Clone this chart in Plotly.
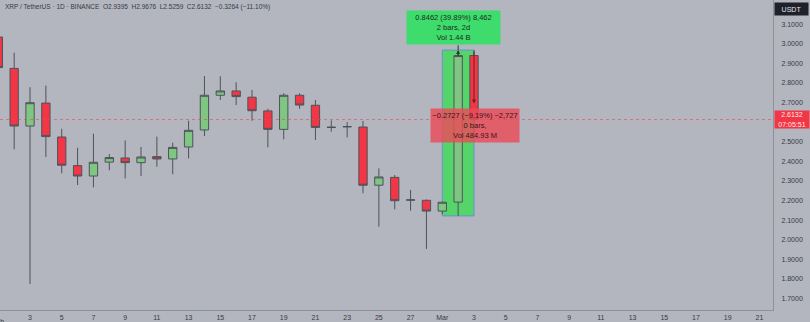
import plotly.graph_objects as go

# ---------------- data ----------------
dates = ["2025-02-%02d" % d for d in range(1, 29)] + ["2025-03-01", "2025-03-02", "2025-03-03"]
open_ = [3.034, 2.874, 2.580, 2.697, 2.524, 2.378, 2.325, 2.396, 2.417, 2.393, 2.424, 2.412,
         2.473, 2.560, 2.737, 2.759, 2.727, 2.657, 2.563, 2.737, 2.686, 2.574, 2.576, 2.575,
         2.278, 2.318, 2.202, 2.201, 2.146, 2.192, 2.9395]
high = [3.060, 2.954, 2.778, 2.786, 2.566, 2.469, 2.541, 2.437, 2.507, 2.473, 2.526, 2.495,
        2.607, 2.835, 2.834, 2.803, 2.764, 2.668, 2.747, 2.747, 2.713, 2.609, 2.600, 2.606,
        2.364, 2.330, 2.254, 2.205, 2.195, 2.955, 2.9676]
low = [2.850, 2.461, 1.774, 2.422, 2.339, 2.279, 2.267, 2.354, 2.313, 2.325, 2.372, 2.334,
       2.415, 2.529, 2.713, 2.687, 2.607, 2.471, 2.512, 2.668, 2.509, 2.551, 2.522, 2.237,
       2.066, 2.155, 2.148, 1.953, 2.130, 2.1213, 2.5259]
close = [2.878, 2.580, 2.699, 2.526, 2.380, 2.325, 2.395, 2.419, 2.393, 2.422, 2.412, 2.471,
         2.558, 2.737, 2.759, 2.730, 2.658, 2.563, 2.737, 2.687, 2.573, 2.573, 2.577, 2.278,
         2.320, 2.199, 2.203, 2.146, 2.191, 2.9395, 2.6132]

price_ticks = [1.7, 1.8, 1.9, 2.0, 2.1, 2.2, 2.3, 2.4, 2.5, 2.7, 2.8, 2.9, 3.0, 3.1]
date_ticks = ["2025-02-%02d" % d for d in range(3, 28, 2)] + ["2025-03-01"] + \
             ["2025-03-%02d" % d for d in range(3, 22, 2)]
date_tick_text = [str(d) for d in range(3, 28, 2)] + ["Mar"] + [str(d) for d in range(3, 22, 2)]

title_text = "XRP / TetherUS · 1D · BINANCE  O2.9395  H2.9676  L2.5259  C2.6132  −0.3264 (−11.10%)"
last_price = 2.6132
last_time = "07:05:51"
meas_up = dict(start="2025-03-01", end="2025-03-03", mid="2025-03-02", p0=2.1213, p1=2.9675,
               text="0.8462 (39.89%) 8,462<br>2 bars, 2d<br>Vol 1.44 B")
meas_dn = dict(at="2025-03-03", p0=2.9675, p1=2.6948,
               text="−0.2727 (−9.19%) −2,727<br>0 bars,<br>Vol 484.93 M")

# ---------------- figure ----------------
BG = "#b3b6bf"
TXT = "#363a45"
FONT = "Liberation Sans"

fig = go.Figure()
fig.add_trace(go.Candlestick(
    x=dates, open=open_, high=high, low=low, close=close,
    increasing=dict(line=dict(color="#4d5359", width=1), fillcolor="#80c683"),
    decreasing=dict(line=dict(color="#4d5359", width=1), fillcolor="#f23645"),
    hoverinfo="skip", showlegend=False,
))

# measurement rectangle (green)
fig.add_shape(type="rect", xref="x", yref="y", x0=meas_up["start"], x1=meas_up["end"],
              y0=meas_up["p0"], y1=meas_up["p1"], fillcolor="#55d46a",
              line=dict(color="#6a8fd8", width=1), layer="below")

# last price dotted line
fig.add_shape(type="line", xref="paper", yref="y", x0=0, x1=1, y0=last_price, y1=last_price,
              line=dict(color="rgba(236,70,84,0.6)", width=1, dash="dot"))

# green label connector + arrow
fig.add_annotation(x=meas_up["mid"], y=meas_up["p1"], xref="x", yref="y",
                   ax=meas_up["mid"], ay=3.0, axref="x", ayref="y",
                   showarrow=True, arrowhead=0, arrowwidth=1, arrowcolor="#2b3a2b", text="")
fig.add_annotation(x=meas_up["mid"], y=meas_up["p1"], xref="x", yref="y",
                   ax=meas_up["mid"], ay=2.93, axref="x", ayref="y",
                   showarrow=True, arrowhead=2, arrowsize=0.8, arrowwidth=1,
                   arrowcolor="#2b3a2b", text="")
# red down arrow
fig.add_annotation(x=meas_dn["at"], y=meas_dn["p1"], xref="x", yref="y",
                   ax=meas_dn["at"], ay=meas_dn["p0"], axref="x", ayref="y",
                   showarrow=True, arrowhead=2, arrowsize=0.8, arrowwidth=1,
                   arrowcolor="#6e1c24", text="")

# measurement labels
fig.add_annotation(x=453.5 / 773, y=1 - 27.7 / 310, xref="paper", yref="paper",
                   xanchor="center", yanchor="middle",
                   text=meas_up["text"], showarrow=False, bgcolor="#3ddc6c",
                   width=93, height=33, font=dict(family=FONT, size=7.5, color="#1d2a20"),
                   align="center", borderpad=0)
fig.add_annotation(x=475.2 / 773, y=1 - 125.9 / 310, xref="paper", yref="paper",
                   xanchor="center", yanchor="middle",
                   text=meas_dn["text"], showarrow=False, bgcolor="rgba(236,74,88,0.82)",
                   width=88, height=33, font=dict(family=FONT, size=7.5, color="#3a1418"),
                   align="center", borderpad=0)

# title
fig.add_annotation(x=3 / 773, y=1 - 6.5 / 310, xref="paper", yref="paper", text=title_text,
                   showarrow=False, xanchor="left", yanchor="middle",
                   font=dict(family=FONT, size=6.5, color=TXT))

# "Feb" label, cut off at the left edge as in the original
fig.add_annotation(x=-2 / 773, y=-6 / 310, xref="paper", yref="paper", text="Feb",
                   showarrow=False, xanchor="center", yanchor="top",
                   font=dict(family=FONT, size=7, color=TXT))

# USDT box
fig.add_annotation(x=791.5 / 773, y=1 - 8.5 / 310, xref="paper", yref="paper", text="USDT",
                   xanchor="center", yanchor="middle",
                   showarrow=False, bgcolor="#1e2129", width=33, height=12,
                   font=dict(family=FONT, size=7, color="#e8e8ea"), borderpad=0)
# last price label
fig.add_annotation(x=791.8 / 773, y=last_price, xref="paper", yref="y",
                   xanchor="center", yanchor="middle",
                   text="%.4f<br>%s" % (last_price, last_time), showarrow=False,
                   bgcolor="#f23645", width=34, height=17,
                   font=dict(family=FONT, size=7, color="#ffe8ea"), borderpad=0)

fig.update_layout(
    width=810, height=322,
    margin=dict(l=0, r=37, t=0, b=12),
    paper_bgcolor=BG, plot_bgcolor=BG,
    boxgap=0.25,
    xaxis=dict(
        type="date",
        range=["2025-02-01 02:34", "2025-03-21 20:33"],
        rangeslider=dict(visible=False),
        tickvals=date_ticks, ticktext=date_tick_text,
        tickfont=dict(family=FONT, size=7, color=TXT),
        showgrid=False, zeroline=False,
        showline=True, linecolor="#8e919a", linewidth=1,
        ticks="", ticklabelstandoff=1,
        fixedrange=True,
    ),
    yaxis=dict(
        side="right",
        range=[1.6413, 3.223],
        tickvals=price_ticks, ticktext=["%.4f" % v for v in price_ticks],
        tickfont=dict(family=FONT, size=7, color=TXT),
        showgrid=False, zeroline=False,
        showline=True, linecolor="#8e919a", linewidth=1, mirror=False,
        ticks="", ticklabelstandoff=6,
        fixedrange=True,
    ),
)

fig.write_html("out.html")
